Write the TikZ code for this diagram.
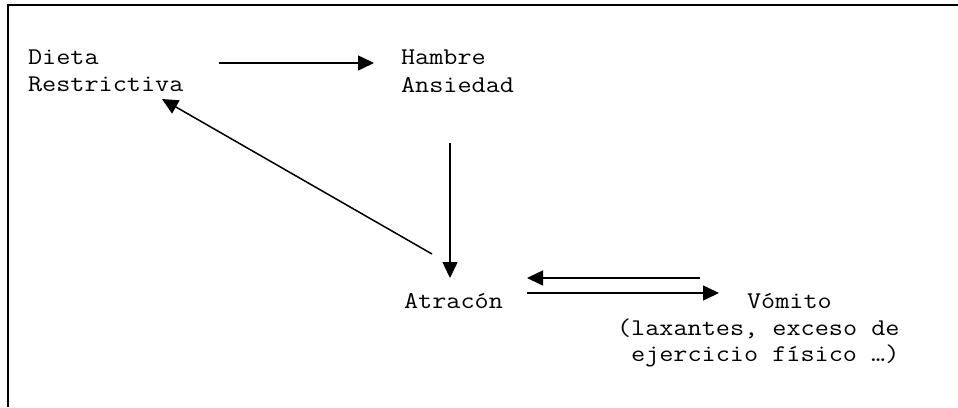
\documentclass[tikz,border=0pt]{standalone}
\usepackage{fontspec}
\newfontfamily\cour{Latin Modern Mono}[FakeStretch=1.143]
\usetikzlibrary{arrows.meta}
\tikzset{
  lbl/.style={anchor=base west, inner sep=0pt, outer sep=0pt, font=\cour\fontsize{24}{27}\selectfont},
  arr/.style={line width=1.5pt, -{Triangle[length=16pt,width=15pt]}},
  frame/.style={line width=2pt}
}
\begin{document}
\begin{tikzpicture}[x=1pt,y=-1pt]
\useasboundingbox (0,0) rectangle (958,407);
% frame (top and left sides only)
\draw[frame] (8,407) -- (8,5) -- (958,5);
% texts
\node[lbl] (dieta) at (28,64) {Dieta};
\node[lbl] (restr) at (28,91) {Restrictiva};
\node[lbl] (hambre) at (401,64) {Hambre};
\node[lbl] (ansiedad) at (401,92) {Ansiedad};
\node[lbl] (atracon) at (404,308) {Atracón};
\node[lbl] (vomito) at (747,308) {Vómito};
\node[lbl] (lax) at (617,335) {(laxantes, exceso de};
\node[lbl] (ejer) at (631,361) {ejercicio físico …)};
% connector end points
\coordinate (d2hA) at (219,63);
\coordinate (d2hB) at (374,63);
\coordinate (h2aA) at (450,143);
\coordinate (h2aB) at (450,278);
\coordinate (a2dA) at (432,254);
\coordinate (a2dB) at (162,99);
\coordinate (v2aA) at (700,278);
\coordinate (v2aB) at (527,278);
\coordinate (a2vA) at (527,293);
\coordinate (a2vB) at (719,293);
% connectors
\draw[arr] (d2hA) -- (d2hB);
\draw[arr] (h2aA) -- (h2aB);
\draw[arr] (a2dA) -- (a2dB);
\draw[arr] (v2aA) -- (v2aB);
\draw[arr] (a2vA) -- (a2vB);
\end{tikzpicture}
\end{document}
